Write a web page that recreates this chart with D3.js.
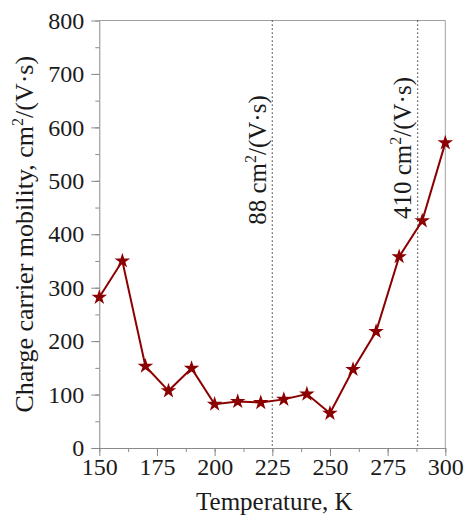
<!DOCTYPE html>
<html>
<head>
<meta charset="utf-8">
<script src="https://cdn.jsdelivr.net/npm/d3@7"></script>
</head>
<body style="margin:0">
<svg id="chart" width="467" height="523"></svg>
<script>
// Temperature (K) and measured charge carrier mobility, cm²/(V·s)
const temperature = [150, 160, 170, 180, 190, 200, 210, 220, 230, 240, 250, 260, 270, 280, 290, 300];
const mobility    = [282, 350, 153, 107, 149, 82, 87, 85, 91, 101, 65, 147, 218, 358, 425, 571];

// Reference markers: temperature and the mobility noted beside each
const markerTemps  = [225, 288];
const markerLabels = ["88", "410"];

const xTicks = [150, 175, 200, 225, 250, 275, 300];
const yTicks = [0, 100, 200, 300, 400, 500, 600, 700, 800];

const FONT = '"Liberation Serif"';
const TEXT = "#1a1a1a";

const m = { left: 99.3, right: 445.3, top: 20.5, bottom: 448 };

const svg = d3.select("#chart");

const x = d3.scaleLinear().domain([150, 300]).range([m.left, m.right]);
const y = d3.scaleLinear().domain([0, 800]).range([m.bottom, m.top]);

const axisColor = "#8a8a8a";

// frame (top and right)
svg.append("path")
  .attr("d", `M${m.left},${m.top}H${m.right}V${m.bottom}`)
  .attr("fill", "none").attr("stroke", "#a0a0a0").attr("stroke-width", 1);

// minor ticks
const xMinor = d3.range(150, 300.01, 12.5);
const yMinor = d3.range(0, 800.01, 50);

svg.append("g").attr("transform", `translate(0,${m.bottom})`)
  .call(d3.axisBottom(x).tickValues(xMinor).tickSize(4).tickSizeOuter(0).tickFormat(""))
  .call(g => g.select(".domain").remove())
  .call(g => g.selectAll("line").attr("stroke", axisColor));

svg.append("g").attr("transform", `translate(${m.left},0)`)
  .call(d3.axisLeft(y).tickValues(yMinor).tickSize(4).tickSizeOuter(0).tickFormat(""))
  .call(g => g.select(".domain").remove())
  .call(g => g.selectAll("line").attr("stroke", axisColor));

// major axes
const xAxis = svg.append("g").attr("transform", `translate(0,${m.bottom})`)
  .call(d3.axisBottom(x).tickValues(xTicks).tickSize(8).tickSizeOuter(0).tickPadding(2));
xAxis.attr("font-family", null).attr("font-size", null);
xAxis.select(".domain").attr("stroke", axisColor);
xAxis.selectAll("line").attr("stroke", axisColor);
xAxis.selectAll("text").style("font-family", FONT).style("font-size", "24px").attr("fill", TEXT);

const yAxis = svg.append("g").attr("transform", `translate(${m.left},0)`)
  .call(d3.axisLeft(y).tickValues(yTicks).tickSize(8).tickSizeOuter(0).tickPadding(7));
yAxis.attr("font-family", null).attr("font-size", null);
yAxis.select(".domain").attr("stroke", axisColor);
yAxis.selectAll("line").attr("stroke", axisColor);
yAxis.selectAll("text").style("font-family", FONT).style("font-size", "24px").attr("fill", TEXT);

// dotted reference lines
svg.append("g").selectAll("line").data(markerTemps).join("line")
  .attr("x1", d => x(d)).attr("x2", d => x(d))
  .attr("y1", m.top).attr("y2", m.bottom)
  .attr("stroke", "#333").attr("stroke-width", 1.2)
  .attr("stroke-dasharray", "1.2,2.8");

// rotated labels beside the reference lines
const labelPos = [{ cx: 266, cy: 160 }, { cx: 411, cy: 148 }];
markerLabels.forEach((lab, i) => {
  const t = svg.append("text")
    .attr("transform", `translate(${labelPos[i].cx},${labelPos[i].cy}) rotate(-90)`)
    .attr("text-anchor", "middle")
    .style("font-family", FONT).style("font-size", "25px").attr("fill", TEXT);
  t.append("tspan").text(lab + " cm");
  t.append("tspan").style("font-size", "16px").attr("dy", -10).text("2");
  t.append("tspan").attr("dy", 10).text("/(V·s)");
});

// data line
const line = d3.line().x((d, i) => x(temperature[i])).y(d => y(d));
svg.append("path").datum(mobility)
  .attr("d", line)
  .attr("fill", "none")
  .attr("stroke", "#8b0000")
  .attr("stroke-width", 2);

// star markers
svg.append("g").selectAll("path").data(mobility).join("path")
  .attr("transform", (d, i) => `translate(${x(temperature[i])},${y(d)})`)
  .attr("d", d3.symbol().type(d3.symbolStar).size(75))
  .attr("fill", "#8b0000");

// axis titles
svg.append("text")
  .attr("x", (m.left + m.right) / 2 + 2).attr("y", 510)
  .attr("text-anchor", "middle")
  .style("font-family", FONT).style("font-size", "25px").attr("fill", TEXT)
  .text("Temperature, K");

const yt = svg.append("text")
  .attr("transform", `translate(33,${(m.top + m.bottom) / 2}) rotate(-90)`)
  .attr("text-anchor", "middle")
  .style("font-family", FONT).style("font-size", "26px").attr("fill", TEXT);
yt.append("tspan").text("Charge carrier mobility, cm");
yt.append("tspan").style("font-size", "16px").attr("dy", -10).text("2");
yt.append("tspan").attr("dy", 10).text("/(V·s)");
</script>
</body>
</html>
